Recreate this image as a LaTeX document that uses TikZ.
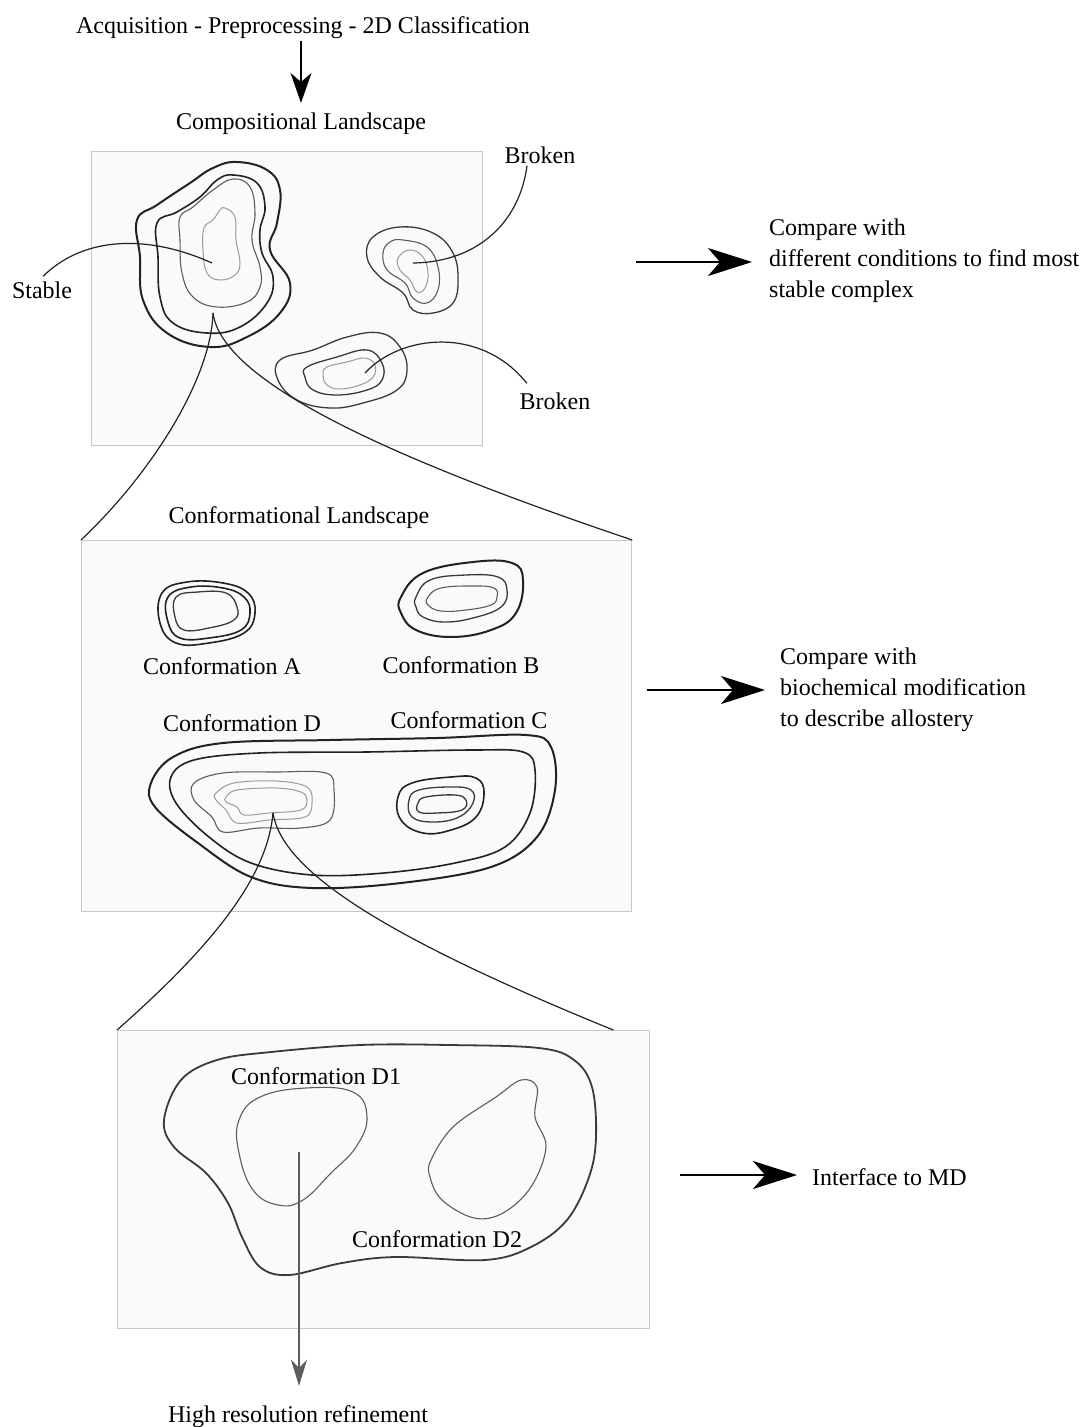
\documentclass[tikz,border=0pt]{standalone}
\usepackage{fontspec}
\setmainfont{Liberation Serif}
\usetikzlibrary{positioning, arrows.meta}
\definecolor{cInk}{HTML}{222222}
\definecolor{cDark}{HTML}{3a3a3a}
\definecolor{cMid}{HTML}{5c5c5c}
\definecolor{cPale}{HTML}{9a9a9a}
\definecolor{cPanel}{HTML}{fafafa}
\definecolor{cFrame}{HTML}{c8c8c8}

\begin{document}
\begin{tikzpicture}[x=1pt, y=-1pt,
    lbl/.style={font=\fontsize{24}{31}\selectfont, inner sep=0pt, yshift=-3pt},
    panel/.style={draw=cFrame, fill=cPanel, line width=1.3pt, inner sep=0pt, anchor=north west},
    heavy/.style={draw=cInk, line width=2pt},
    strong/.style={draw=cInk, line width=1.6pt},
    medium/.style={draw=cDark, line width=1.3pt},
    faint/.style={draw=cMid, line width=1.1pt},
    pale/.style={draw=cPale, line width=1pt},
    lead/.style={draw=cInk, line width=1.2pt},
    harr/.style={-{Stealth[length=44pt, width=28pt, inset=12pt]}, line width=2.2pt, black},
    varr/.style={-{Stealth[length=30pt, width=21pt, inset=9pt]}, line width=1.8pt, black},
    varrg/.style={-{Stealth[length=26pt, width=16pt, inset=8pt]}, line width=1.4pt, cMid}
  ]
  \useasboundingbox (0,0) rectangle (1088,1427);

  % panels
  \node[panel, minimum width=391pt, minimum height=294pt] (pComp) at (91,151) {};
  \node[panel, minimum width=550pt, minimum height=371pt] (pConf) at (81,540) {};
  \node[panel, minimum width=532pt, minimum height=298pt] (pSub) at (117,1030) {};

  % headings
  \node[lbl] (acq) at (303,25) {Acquisition - Preprocessing - 2D Classification};
  \node[lbl] (compT) at (301,121) {Compositional Landscape};
  \node[lbl] (confT) at (299,515) {Conformational Landscape};
  \node[lbl] (hires) at (298,1414) {High resolution refinement};
  \draw[varr] ([yshift=-2pt]acq.south -| 301,0) -- ([yshift=10pt]compT.north -| 301,0);

  % compositional landscape
  \draw[heavy] plot[smooth cycle, tension=0.7] coordinates {(237,162) (267,170) (280,190) (277,223) (270,250) (290,283) (280,313) (247,337) (210,347) (167,333) (143,300) (140,257) (137,220) (157,205) (190,183) (213,168)};
  \draw[strong] plot[smooth cycle, tension=0.7] coordinates {(233,175) (257,183) (265,207) (260,230) (262,253) (273,277) (267,303) (240,327) (207,333) (173,323) (160,297) (158,257) (157,223) (177,212) (200,197) (217,180)};
  \draw[faint] plot[smooth cycle, tension=0.7] coordinates {(233,179) (250,187) (255,213) (252,240) (260,267) (260,287) (247,302) (217,307) (193,297) (182,273) (180,240) (180,217) (193,207) (213,190)};
  \draw[pale] plot[smooth cycle, tension=0.7] coordinates {(225,208) (235,217) (236,240) (240,263) (235,275) (220,280) (207,273) (203,250) (204,228) (213,220) (220,210)};

  \draw[medium] plot[smooth cycle, tension=0.7] coordinates {(400,227) (433,233) (453,253) (458,280) (453,303) (433,313) (413,310) (403,293) (380,277) (367,257) (373,237)};
  \draw[faint] plot[smooth cycle, tension=0.7] coordinates {(403,240) (427,247) (438,267) (438,290) (427,303) (413,298) (405,283) (387,270) (383,253) (390,242)};
  \draw[pale] plot[smooth cycle, tension=0.7] coordinates {(410,250) (423,257) (428,273) (425,288) (417,292) (410,280) (400,270) (398,258)};

  \draw[medium] plot[smooth cycle, tension=0.7] coordinates {(280,360) (313,350) (347,337) (380,333) (400,347) (407,370) (397,390) (363,403) (330,408) (297,400) (278,380)};
  \draw[medium] plot[smooth cycle, tension=0.7] coordinates {(307,367) (337,357) (367,350) (382,363) (382,380) (367,390) (337,395) (313,390) (305,377)};
  \draw[pale] plot[smooth cycle, tension=0.7] coordinates {(327,367) (347,362) (365,358) (375,365) (373,377) (360,385) (340,389) (327,385) (323,375)};

  \node[lbl] (stable) at (42,287) {Stable};
  \node[lbl] (brokA) at (540,152) {Broken};
  \node[lbl] (brokB) at (555,398) {Broken};
  \coordinate (stableC) at (212,263);
  \coordinate (brokAC) at (413,263);
  \coordinate (brokBC) at (365,373);
  \coordinate (stableBase) at (213,313);
  \draw[lead] ([xshift=1pt,yshift=5pt]stable.north) .. controls (85,235) and (150,235) .. (stableC);
  \draw[lead] (brokAC) .. controls (480,262) and (520,220) .. ([xshift=-13pt,yshift=-2pt]brokA.south);
  \draw[lead] (brokBC) .. controls (400,335) and (480,325) .. ([xshift=-28pt,yshift=9pt]brokB.north);

  % zoom into conformational landscape
  \draw[lead] (stableBase) .. controls (211,380) and (150,475) .. (pConf.north west);
  \draw[lead] (stableBase) .. controls (222,380) and (380,455) .. (pConf.north east);

  \node[lbl, align=left, anchor=west] (cmpA) at (769,258) {Compare with\\different conditions to find most\\stable complex};
  \coordinate (arA) at (636,262);
  \draw[harr] (arA) -- ([xshift=-17pt]arA -| cmpA.west);

  % conformational landscape
  \draw[strong] plot[smooth cycle, tension=0.7] coordinates {(162,593) (187,582) (223,583) (248,593) (255,613) (244,633) (209,643) (176,643) (160,623)};
  \draw[strong] plot[smooth cycle, tension=0.7] coordinates {(168,597) (191,587) (223,588) (244,597) (250,613) (241,630) (209,638) (180,638) (168,622)};
  \draw[medium] plot[smooth cycle, tension=0.7] coordinates {(176,597) (198,592) (226,593) (237,607) (234,620) (209,628) (184,630) (175,617)};

  \draw[heavy] plot[smooth cycle, tension=0.7] coordinates {(401,597) (423,573) (473,562) (512,563) (523,580) (516,613) (491,630) (451,637) (416,630) (401,613)};
  \draw[medium] plot[smooth cycle, tension=0.7] coordinates {(416,597) (430,580) (466,575) (498,577) (507,590) (501,607) (473,618) (444,622) (423,617) (416,607)};
  \draw[faint] plot[smooth cycle, tension=0.7] coordinates {(428,597) (441,588) (473,586) (494,588) (497,597) (491,605) (466,610) (441,611) (428,605)};

  \draw[heavy] plot[smooth cycle, tension=0.6] coordinates {(151,783) (173,757) (223,743) (330,740) (437,738) (526,735) (551,747) (555,790) (537,837) (491,867) (401,883) (312,888) (251,877) (198,843) (155,807)};
  \draw[strong] plot[smooth cycle, tension=0.6] coordinates {(171,777) (194,760) (259,753) (366,752) (473,750) (523,752) (535,770) (530,813) (505,847) (455,863) (384,873) (312,875) (251,863) (209,837) (176,803)};
  \draw[faint] plot[smooth cycle, tension=0.6] coordinates {(194,783) (223,773) (276,772) (326,773) (334,790) (330,820) (301,828) (259,828) (223,832) (212,817) (194,800)};
  \draw[pale] plot[smooth cycle, tension=0.6] coordinates {(216,793) (234,783) (276,781) (307,787) (312,803) (305,817) (269,820) (237,823) (226,810) (216,800)};
  \draw[pale] plot[smooth cycle, tension=0.6] coordinates {(226,797) (237,790) (276,788) (301,792) (307,800) (301,810) (269,813) (244,815) (237,807) (226,802)};

  \draw[strong] plot[smooth cycle, tension=0.7] coordinates {(398,797) (412,783) (451,777) (476,778) (484,793) (476,817) (451,830) (423,833) (401,820)};
  \draw[medium] plot[smooth cycle, tension=0.7] coordinates {(409,800) (419,790) (451,787) (471,790) (473,803) (459,817) (434,822) (412,817)};
  \draw[medium] plot[smooth cycle, tension=0.7] coordinates {(418,803) (426,797) (455,795) (466,800) (462,810) (437,813) (419,812)};

  \node[lbl] (confA) at (222,663) {Conformation A};
  \node[lbl] (confB) at (461,662) {Conformation B};
  \node[lbl] (confD) at (242,720) {Conformation D};
  \node[lbl] (confC) at (469,717) {Conformation C};
  \coordinate (confDC) at (273,813);

  % zoom into sub-states
  \draw[lead] (confDC) .. controls (268,870) and (225,935) .. (pSub.north west);
  \draw[lead] (confDC) .. controls (282,870) and (380,935) .. ([xshift=-37pt]pSub.north east);

  \node[lbl, align=left, anchor=west] (cmpB) at (780,687) {Compare with\\biochemical modification\\to describe allostery};
  \coordinate (arB) at (647,690);
  \draw[harr] (arB) -- ([xshift=-15pt]arB -| cmpB.west);

  % sub-states of conformation D
  \draw[medium, line width=1.8pt] plot[smooth cycle, tension=0.6] coordinates {(164,1120) (181,1080) (217,1060) (271,1052) (360,1045) (449,1045) (539,1048) (574,1060) (592,1087) (596,1137) (589,1177) (567,1220) (531,1247) (485,1260) (396,1257) (342,1263) (289,1275) (260,1267) (242,1237) (228,1203) (206,1173) (174,1147)};
  \draw[faint] plot[smooth cycle, tension=0.7] coordinates {(239,1120) (260,1097) (306,1088) (353,1092) (367,1117) (356,1147) (331,1173) (303,1200) (278,1205) (253,1190) (239,1153)};
  \draw[faint] plot[smooth cycle, tension=0.6] coordinates {(431,1160) (453,1127) (496,1097) (521,1080) (537,1087) (535,1117) (546,1147) (531,1187) (503,1213) (474,1218) (442,1200) (430,1177)};

  \node[lbl] (confD1) at (316,1073) {Conformation D1};
  \node[lbl] (confD2) at (437,1236) {Conformation D2};
  \coordinate (confD1C) at (299,1152);
  \draw[varrg] (confD1C) -- ([yshift=20pt]confD1C |- hires.north);

  \node[lbl, anchor=west] (iface) at (812,1174) {Interface to MD};
  \coordinate (arC) at (680,1175);
  \draw[harr] (arC) -- ([xshift=-15pt]arC -| iface.west);
\end{tikzpicture}
\end{document}
